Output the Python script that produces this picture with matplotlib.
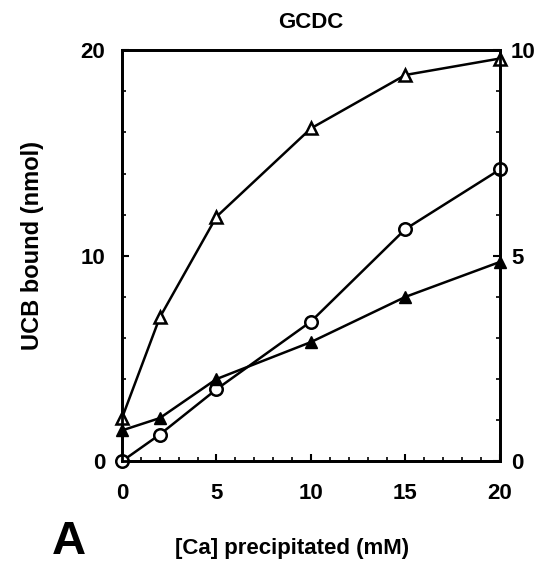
import matplotlib
matplotlib.use('Agg')
import matplotlib.pyplot as plt
from matplotlib.ticker import MultipleLocator

plt.rcParams['font.family'] = ['Liberation Sans', 'DejaVu Sans']
plt.rcParams['font.weight'] = 'bold'

# data
ca = [0, 2, 5, 10, 15, 20]
open_tri = [2.1, 7.0, 11.9, 16.2, 18.8, 19.6]    # left axis
open_circ = [0.0, 1.3, 3.5, 6.8, 11.3, 14.2]     # left axis
filled_tri = [0.75, 1.05, 2.0, 2.9, 4.0, 4.85]   # right axis

fig = plt.figure(figsize=(5.47, 5.78), dpi=100)
ax = fig.add_axes([0.223, 0.202, 0.691, 0.711])
ax2 = ax.twinx()

ax.plot(ca, open_tri, '-', color='black', lw=1.8, marker='^', ms=9,
        mfc='white', mec='black', mew=1.8, clip_on=False, zorder=5)
ax.plot(ca, open_circ, '-', color='black', lw=1.8, marker='o', ms=9,
        mfc='white', mec='black', mew=1.8, clip_on=False, zorder=5)
ax2.plot(ca, filled_tri, '-', color='black', lw=1.8, marker='^', ms=9,
         mfc='black', mec='black', clip_on=False, zorder=5)

ax.set_xlim(0, 20)
ax.set_ylim(0, 20)
ax2.set_ylim(0, 10)

ax.set_xticks([0, 5, 10, 15, 20])
ax.set_yticks([0, 10, 20])
ax2.set_yticks([0, 5, 10])
ax.xaxis.set_minor_locator(MultipleLocator(1))
ax.yaxis.set_minor_locator(MultipleLocator(2))
ax2.yaxis.set_minor_locator(MultipleLocator(1))

for a in (ax, ax2):
    for s in a.spines.values():
        s.set_linewidth(2)
    a.tick_params(which='major', direction='in', length=5, width=1.5,
                  labelsize=16, pad=12)
    a.tick_params(which='minor', direction='in', length=3, width=1.2)
ax.tick_params(axis='x', pad=16)
ax2.tick_params(axis='y', pad=8)

ax.set_ylabel('UCB bound (nmol)', fontsize=17, fontweight='bold', va='center')
ax.yaxis.set_label_coords(-0.238, 0.525)
ax.set_xlabel('[Ca] precipitated (mM)', fontsize=16, fontweight='bold', va='center')
ax.xaxis.set_label_coords(0.45, -0.212)
ax.set_title('GCDC', fontsize=16, fontweight='bold', pad=16)
fig.text(0.095, 0.062, 'A', fontsize=34, fontweight='bold', va='center', ha='left')

fig.savefig('out.png', dpi=100)
